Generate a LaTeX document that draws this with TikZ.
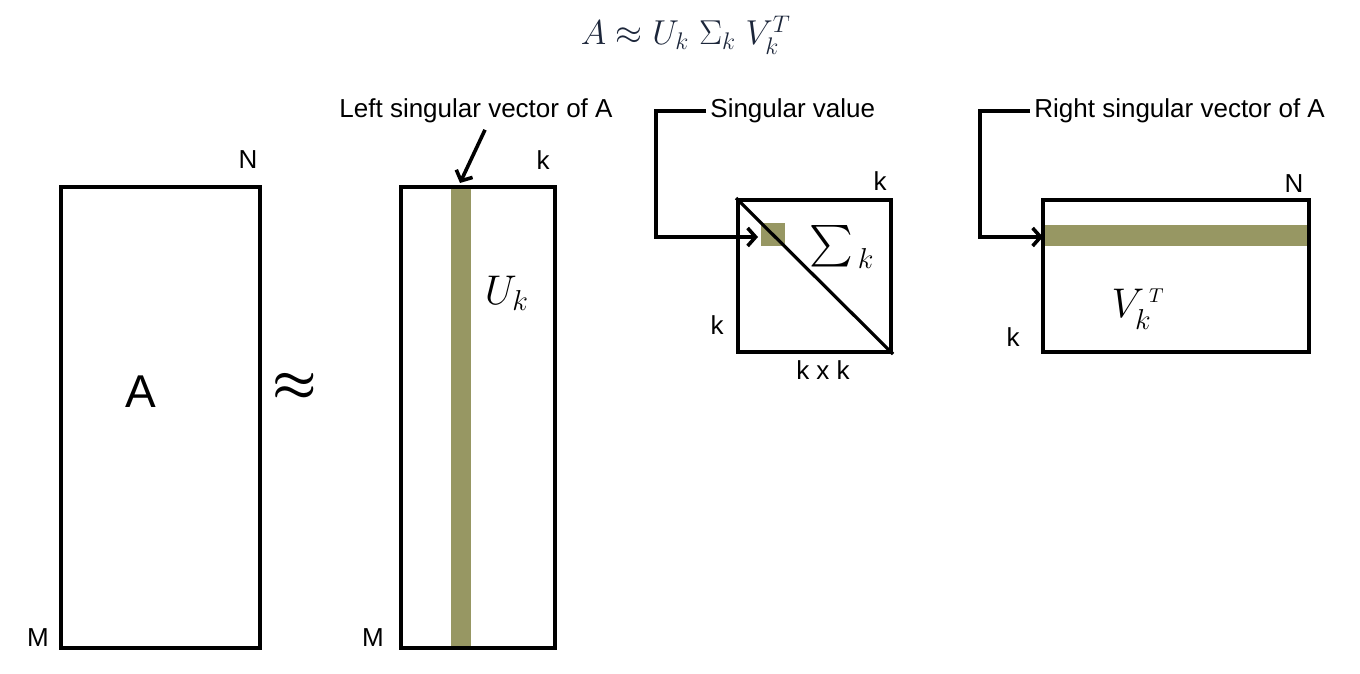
\documentclass[tikz,border=0pt]{standalone}
\usepackage{amsmath}
\usepackage{fontspec}
\setmainfont{Liberation Sans}
\usepackage{tikz}
\usetikzlibrary{arrows.meta, positioning}
\definecolor{bandgreen}{RGB}{151,151,99}
\definecolor{titleblue}{RGB}{28,38,58}

\begin{document}
\begin{tikzpicture}[
  x=0.5pt, y=-0.5pt,
  font=\fontsize{13}{15}\selectfont,
  mat/.style={draw, line width=2pt, inner sep=0pt},
  band/.style={fill=bandgreen},
  dim/.style={inner sep=1pt},
  lbl/.style={inner sep=2pt},
  big/.style={font=\fontsize{20}{22}\selectfont},
  arr/.style={-{Straight Barb[length=4pt, width=9pt]}, line width=1.8pt}]
\useasboundingbox (0,0) rectangle (1360,674);
% title formula
\node[text=titleblue, font=\fontsize{16.5}{18}\selectfont] (title) at (686,35) {$A \approx U_k\;\Sigma_k\;V_k^T$};
% highlighted columns / rows
\fill[band] (451,187) rectangle (471,648);
\fill[band] (761,223) rectangle (785,246);
\fill[band] (1043,225) rectangle (1309,246);
% matrices
\node[mat, minimum width=99.5pt, minimum height=230.5pt] (A) at (160.5,417.5) {};
\node[mat, minimum width=77pt, minimum height=230.5pt] (U) at (478,417.5) {};
\node[mat, minimum width=76.5pt, minimum height=76pt] (S) at (814.5,276) {};
\node[mat, minimum width=133pt, minimum height=76pt] (V) at (1176,276) {};
\draw[line width=1.6pt] (S.north west) -- (S.south east);
% matrix names
\node[font=\fontsize{23}{25}\selectfont] (Aname) at (141,392) {A};
\node[font=\fontsize{24}{26}\selectfont] (approx) at (295,387) {$\boldsymbol{\approx}$};
\node[big] (Uname) at (507,293) {$U_k$};
\node[big] (Sname) at (842,247) {$\sum\nolimits_{\,k}$};
\node[big] (Vname) at (1138,309) {$V_k^{\,\scriptscriptstyle T}$};
% dimensions
\foreach \pos/\txt [count=\i] in {{(248,160)}/N, {(38,638)}/M, {(543,160)}/k, {(373,638)}/M,
    {(880,181)}/k, {(717,325)}/k, {(823,370)}/k x k, {(1294,184)}/N, {(1013,337)}/k}{
  \node[dim] (dim\i) at \pos {\txt};
}
% callouts
\node[lbl, anchor=base] (lsv) at (476,118) {Left singular vector of A};
\node[lbl, anchor=base west] (sv) at (706,118) {Singular value};
\node[lbl, anchor=base west] (rsv) at (1030,118) {Right singular vector of A};
\coordinate (lhead) at (460,183);
\coordinate (stip) at (758,237);
\coordinate (vtip) at (1043,237);
\draw[arr] ([xshift=4.5pt, yshift=-1pt]lsv.south) -- (lhead);
\draw[arr] (sv.west) -- ++(-50,0) |- (stip);
\draw[arr] (rsv.west) -- ++(-50,0) |- (vtip);
\end{tikzpicture}
\end{document}
